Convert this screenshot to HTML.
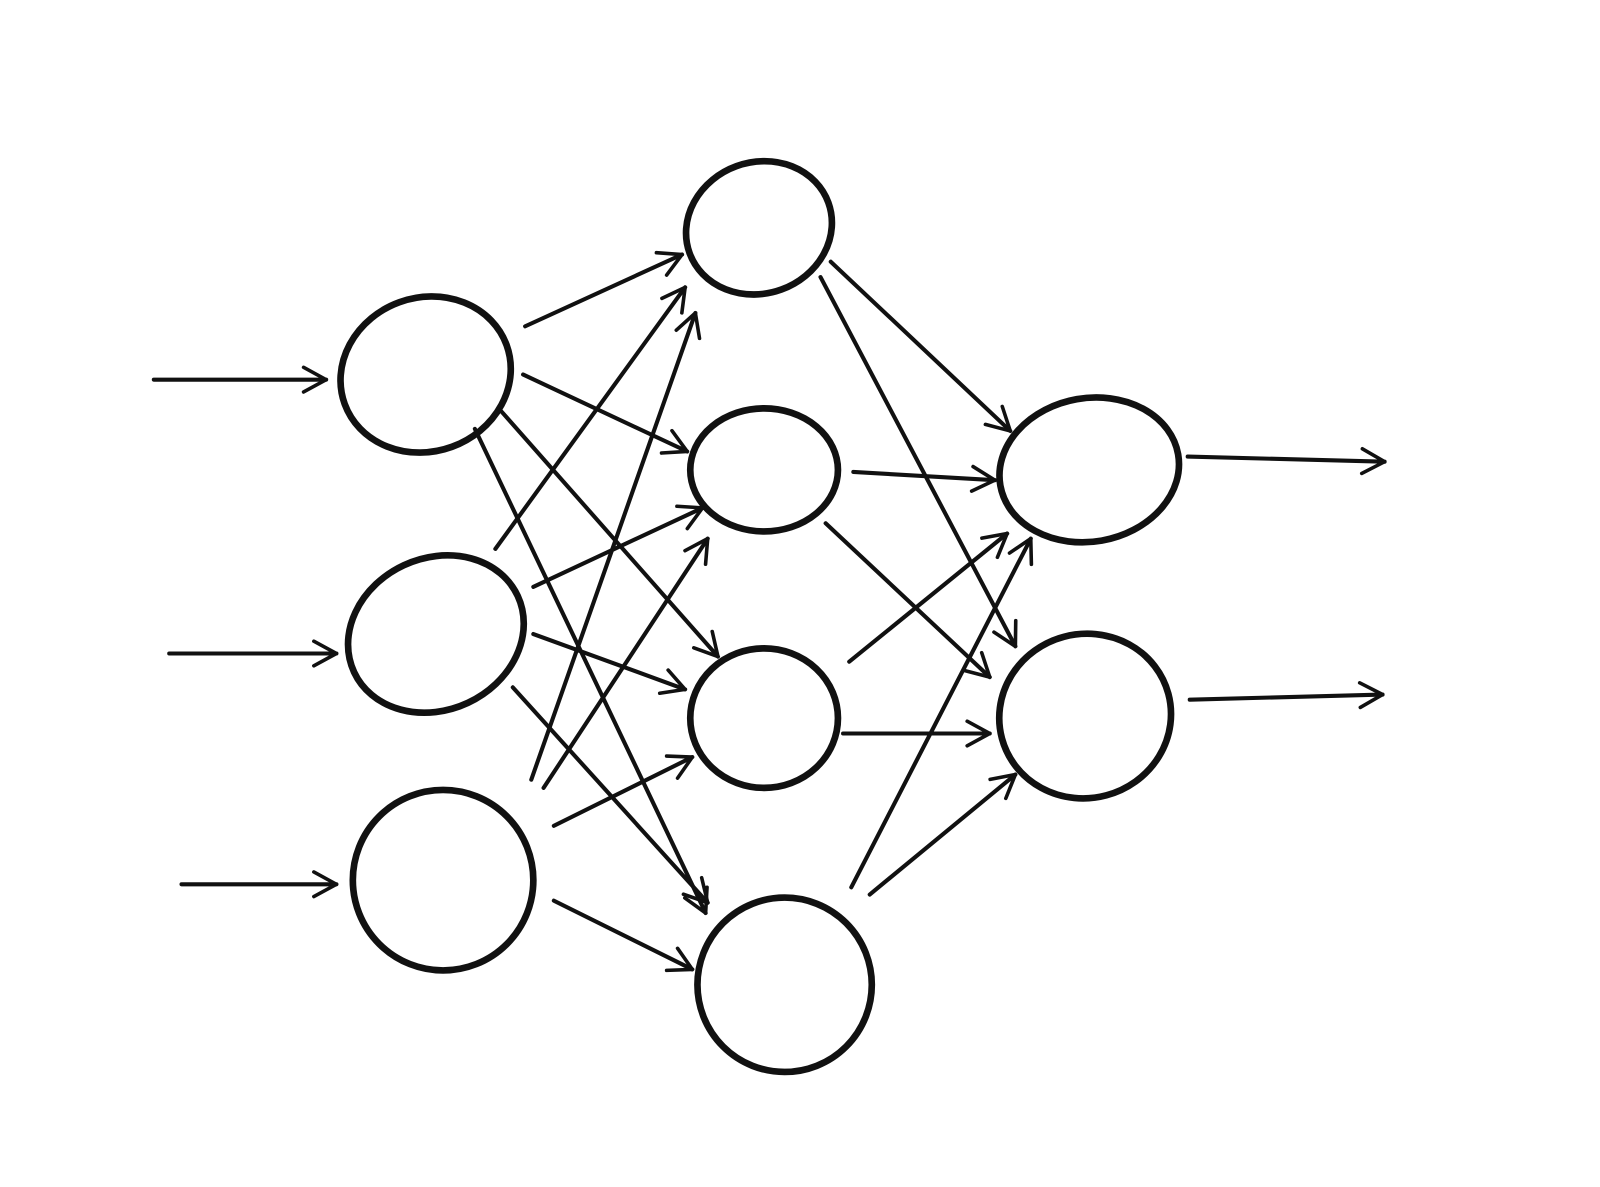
<!DOCTYPE html>
<html><head><style>html,body{margin:0;padding:0;background:#fff;}svg{display:block}</style></head>
<body>
<svg width="1600" height="1187" viewBox="0 0 1560 1157" xmlns="http://www.w3.org/2000/svg">
<defs>
<marker id="a" markerUnits="userSpaceOnUse" markerWidth="40" markerHeight="40" refX="30" refY="15" orient="auto">
<path d="M8,3 L30,15 L8,27" fill="none" stroke="#111" stroke-width="3.5" stroke-linecap="round" stroke-linejoin="round"/>
</marker>
</defs>
<g fill="none" stroke="#111" stroke-width="6.5" stroke-linecap="round">
<ellipse cx="415" cy="365" rx="84" ry="75" transform="rotate(-20 415 365)"/>
<ellipse cx="425" cy="618" rx="88" ry="74" transform="rotate(-25 425 618)"/>
<ellipse cx="432" cy="858" rx="88" ry="88"/>
<ellipse cx="740" cy="222" rx="72" ry="64" transform="rotate(-20 740 222)"/>
<ellipse cx="745" cy="458" rx="72" ry="60"/>
<ellipse cx="745" cy="700" rx="72" ry="68"/>
<ellipse cx="765" cy="960" rx="85" ry="85"/>
<ellipse cx="1062" cy="458" rx="88" ry="70" transform="rotate(-10 1062 458)"/>
<ellipse cx="1058" cy="698" rx="84" ry="80" transform="rotate(-15 1058 698)"/>
</g>
<g fill="none" stroke="#111" stroke-width="4" stroke-linecap="round" marker-end="url(#a)">
<line x1="150" y1="370" x2="318" y2="370"/>
<line x1="165" y1="637" x2="328" y2="637"/>
<line x1="177" y1="862" x2="328" y2="862"/>
<line x1="1158" y1="445" x2="1350" y2="450"/>
<line x1="1160" y1="682" x2="1348" y2="677"/>
<line x1="512" y1="318" x2="665" y2="248"/>
<line x1="510" y1="365" x2="670" y2="440"/>
<line x1="488" y1="400" x2="700" y2="640"/>
<line x1="463" y1="418" x2="688" y2="890"/>
<line x1="483" y1="535" x2="668" y2="280"/>
<line x1="520" y1="572" x2="685" y2="495"/>
<line x1="520" y1="618" x2="668" y2="672"/>
<line x1="500" y1="670" x2="690" y2="880"/>
<line x1="518" y1="760" x2="678" y2="305"/>
<line x1="530" y1="768" x2="690" y2="525"/>
<line x1="540" y1="805" x2="675" y2="738"/>
<line x1="540" y1="878" x2="675" y2="945"/>
<line x1="810" y1="255" x2="985" y2="420"/>
<line x1="800" y1="270" x2="990" y2="630"/>
<line x1="832" y1="460" x2="970" y2="468"/>
<line x1="805" y1="510" x2="965" y2="660"/>
<line x1="828" y1="645" x2="982" y2="520"/>
<line x1="822" y1="715" x2="965" y2="715"/>
<line x1="830" y1="865" x2="1005" y2="525"/>
<line x1="848" y1="872" x2="990" y2="755"/>
</g>
</svg>
</body></html>
